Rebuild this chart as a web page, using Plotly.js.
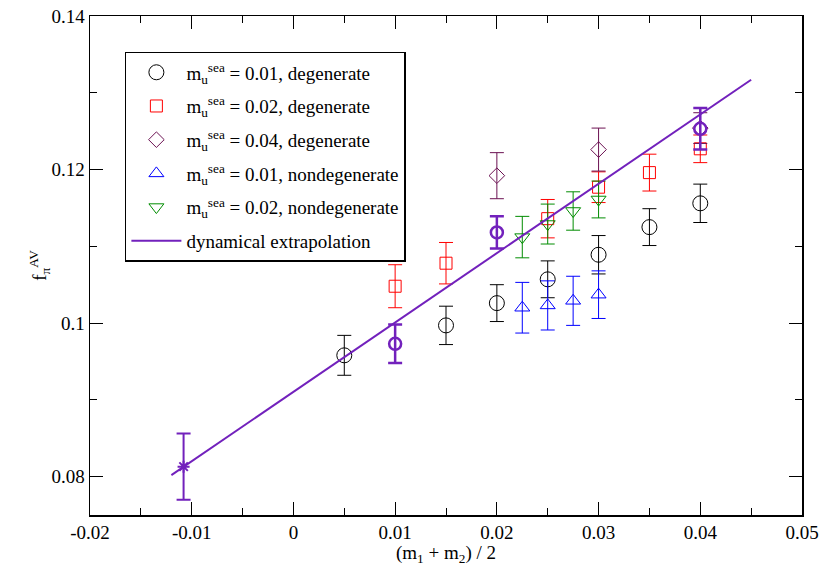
<!DOCTYPE html>
<html>
<head>
<meta charset="utf-8">
<script src="https://cdn.plot.ly/plotly-3.0.1.min.js"></script>
<style>html,body{margin:0;padding:0;background:#fff;}#chart{width:821px;height:566px;}</style>
</head>
<body>
<div id="chart"></div>
<script>
// m_u^sea = 0.01, degenerate
const deg01X = [0.005, 0.015, 0.02, 0.025, 0.03, 0.035, 0.04];
const deg01Y = [0.0958, 0.0997, 0.1026, 0.1057, 0.1089, 0.1125, 0.1156];
const deg01E = [0.0026, 0.0025, 0.0024, 0.0024, 0.0025, 0.0024, 0.0025];
// m_u^sea = 0.02, degenerate
const deg02X = [0.01, 0.015, 0.025, 0.03, 0.035, 0.04];
const deg02Y = [0.1048, 0.1078, 0.1136, 0.1177, 0.1196, 0.1227];
const deg02E = [0.0028, 0.0027, 0.0025, 0.0020, 0.0024, 0.0018];
// m_u^sea = 0.04, degenerate
const deg04X = [0.02, 0.03, 0.04];
const deg04Y = [0.1192, 0.1226, 0.1254];
const deg04E = [0.0030, 0.0028, 0.0020];
// m_u^sea = 0.01, nondegenerate
const nd01X = [0.0225, 0.025, 0.0275, 0.03];
const nd01Y = [0.1020, 0.1023, 0.1029, 0.1037];
const nd01E = [0.0033, 0.0032, 0.0032, 0.0031];
// m_u^sea = 0.02, nondegenerate
const nd02X = [0.0225, 0.025, 0.0275, 0.03];
const nd02Y = [0.1112, 0.1129, 0.1146, 0.1161];
const nd02E = [0.0027, 0.0026, 0.0025, 0.0024];
// dynamical points
const dynX = [0.01, 0.02, 0.04];
const dynY = [0.0973, 0.1118, 0.1253];
const dynE = [0.0025, 0.0021, 0.0027];
// extrapolated point
const extX = [-0.0108];
const extY = [0.0813];
const extE = [0.0043];
// extrapolation line
const lineX = [-0.012, 0.045];
const lineY = [0.0802, 0.1317];

const FONT = 'Liberation Serif';
const INDIGO = '#7221bc';
const FS = 19;

function pts(name, x, y, e, color, symbol, size, lw, show, grp) {
  return {
    type: 'scatter', mode: 'markers', name: name, x: x, y: y, showlegend: show, legendgroup: grp,
    marker: {symbol: symbol, size: size, color: color, line: {color: color, width: lw}},
    error_y: {type: 'data', array: e, visible: true, color: color, thickness: lw, width: 7}
  };
}

const traces = [
  pts('m<sub>u</sub><sup>sea</sup> = 0.01, degenerate', deg01X, deg01Y, deg01E, '#000000', 'circle-open', 15, 1, true, 'g1'),
  pts('m<sub>u</sub><sup>sea</sup> = 0.02, degenerate', deg02X, deg02Y, deg02E, '#ff0000', 'square-open', 12, 1, true, 'g2'),
  pts('m<sub>u</sub><sup>sea</sup> = 0.04, degenerate', deg04X, deg04Y, deg04E, '#6b1152', 'diamond-open', 12, 1, true, 'g3'),
  pts('m<sub>u</sub><sup>sea</sup> = 0.01, nondegenerate', nd01X, nd01Y, nd01E, '#0000ff', 'triangle-up-open', 13, 1, true, 'g4'),
  pts('m<sub>u</sub><sup>sea</sup> = 0.02, nondegenerate', nd02X, nd02Y, nd02E, '#008c00', 'triangle-down-open', 13, 1, true, 'g5'),
  {type: 'scatter', mode: 'lines', name: 'dynamical extrapolation', x: lineX, y: lineY, legendgroup: 'g6',
   line: {color: INDIGO, width: 2}},
  pts('dyn', dynX, dynY, dynE, INDIGO, 'circle-open', 12, 2.5, false, 'g7'),
  pts('ext', extX, extY, extE, INDIGO, 'asterisk-open', 10, 2, false, 'g8')
];

const axisCommon = {
  showgrid: false, zeroline: false, showline: true, linecolor: '#000', linewidth: 1.5,
  mirror: 'allticks', ticks: 'inside', ticklen: 13, tickwidth: 1, tickcolor: '#000',
  tickfont: {family: FONT, size: FS, color: '#000'}
};

const layout = {
  width: 821, height: 566,
  margin: {l: 90, r: 19, t: 16, b: 51},
  paper_bgcolor: '#fff', plot_bgcolor: '#fff',
  font: {family: FONT, size: FS, color: '#000'},
  showlegend: true,
  legend: {
    x: 0.049, y: 0.928, xanchor: 'left', yanchor: 'top',
    bgcolor: '#fff', bordercolor: '#000', borderwidth: 1.5,
    font: {family: FONT, size: FS, color: '#000'},
    tracegroupgap: 6, itemwidth: 50
  },
  xaxis: Object.assign({}, axisCommon, {
    range: [-0.02, 0.05], tickvals: [-0.02, -0.01, 0, 0.01, 0.02, 0.03, 0.04, 0.05],
    ticktext: ['-0.02', '-0.01', '0', '0.01', '0.02', '0.03', '0.04', '0.05'],
    minor: {dtick: 0.005, ticks: 'inside', ticklen: 7, tickcolor: '#000', tick0: 0},
    title: {text: '(m<sub>1</sub> + m<sub>2</sub>) / 2', font: {family: FONT, size: FS}, standoff: 0}
  }),
  yaxis: Object.assign({}, axisCommon, {
    range: [0.075, 0.14], tickvals: [0.08, 0.1, 0.12, 0.14],
    ticktext: ['0.08', '0.1', '0.12', '0.14'],
    minor: {dtick: 0.01, ticks: 'inside', ticklen: 7, tickcolor: '#000', tick0: 0},
    title: {text: 'f<sub>π</sub><sup>AV</sup>', font: {family: FONT, size: FS}, standoff: 0}
  })
};

Plotly.newPlot('chart', traces, layout, {displayModeBar: false, staticPlot: true});
</script>
</body>
</html>
